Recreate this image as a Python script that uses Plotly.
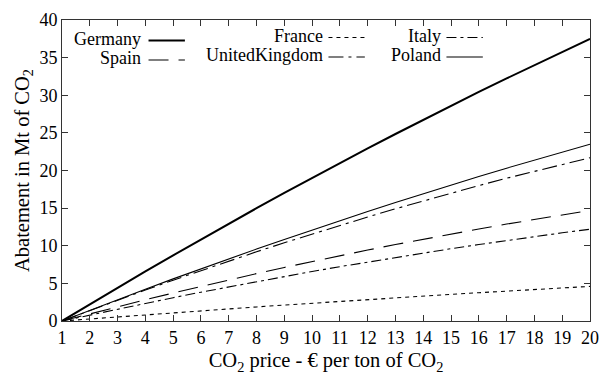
import plotly.graph_objects as go

# CO2 price in EUR per ton
price = list(range(1, 21))

# Abatement in Mt of CO2 for each country
germany = [0, 2.23, 4.42, 6.59, 8.73, 10.85, 12.93, 14.99, 17.02, 19.02,
           20.99, 22.94, 24.85, 26.74, 28.60, 30.44, 32.24, 34.02, 35.77, 37.5]
poland = [0, 1.43, 2.84, 4.23, 5.60, 6.94, 8.26, 9.56, 10.84, 12.10,
          13.34, 14.56, 15.75, 16.92, 18.07, 19.20, 20.31, 21.40, 22.46, 23.5]
uk = [0, 1.40, 2.77, 4.11, 5.42, 6.71, 7.97, 9.20, 10.40, 11.57,
      12.71, 13.82, 14.91, 15.97, 17.00, 18.00, 18.97, 19.91, 20.82, 21.7]
spain = [0, 0.96, 1.90, 2.82, 3.72, 4.60, 5.46, 6.30, 7.12, 7.91,
         8.68, 9.43, 10.16, 10.87, 11.56, 12.23, 12.88, 13.51, 14.12, 14.7]
italy = [0, 0.80, 1.58, 2.35, 3.10, 3.83, 4.54, 5.24, 5.92, 6.58,
         7.22, 7.84, 8.45, 9.04, 9.61, 10.16, 10.70, 11.22, 11.72, 12.2]
france = [0, 0.28, 0.56, 0.83, 1.10, 1.36, 1.62, 1.87, 2.12, 2.37,
          2.61, 2.85, 3.08, 3.31, 3.54, 3.76, 3.98, 4.19, 4.40, 4.6]

x_ticks = list(range(1, 21))
y_ticks = list(range(0, 41, 5))

series = [
    ("Germany", germany, 2.0, "solid"),
    ("Spain", spain, 1.1, "20px,10px"),
    ("France", france, 1.1, "4px,4px"),
    ("UnitedKingdom", uk, 1.1, "15px,5px,3px,5px"),
    ("Italy", italy, 1.1, "10px,4px,3px,4px"),
    ("Poland", poland, 1.1, "solid"),
]

W, H = 609, 382
L, R, T, B = 62, 10, 12, 61
FONT = "Liberation Serif"

fig = go.Figure()
for name, vals, w, dash in series:
    fig.add_trace(go.Scatter(
        x=price, y=vals, mode="lines", name=name,
        line=dict(color="black", width=w, dash=dash),
        showlegend=False,
    ))

# key drawn inside the plot: right-aligned names followed by line samples
pw, ph = W - L - R, H - T - B


def px_x(p):
    return (p - L) / pw


def px_y(p):
    return (H - B - p) / ph


key = [
    ("Germany", 142, 150, 187, 31),
    ("Spain", 142, 150, 187, 51),
    ("France", 327, 333, 370, 28),
    ("UnitedKingdom", 327, 333, 370, 48),
    ("Italy", 447, 453, 490, 28),
    ("Poland", 447, 453, 490, 48),
]
styles = {name: (w, dash) for name, _, w, dash in series}
for name, tx, x0, x1, yy in key:
    fig.add_annotation(
        x=px_x(tx), y=px_y(yy), xref="paper", yref="paper",
        text=name, showarrow=False, xanchor="right", yanchor="middle",
        borderpad=0, borderwidth=0,
        font=dict(family=FONT, size=18, color="black"),
    )
    w, dash = styles[name]
    fig.add_shape(
        type="line", xref="paper", yref="paper",
        x0=px_x(x0), x1=px_x(x1), y0=px_y(yy + 2), y1=px_y(yy + 2),
        line=dict(color="black", width=w, dash=dash),
    )

axis_common = dict(
    showline=True, linecolor="#333", linewidth=1, mirror="ticks",
    ticks="inside", ticklen=6, tickcolor="#333", tickwidth=1,
    showgrid=False, zeroline=False,
    tickfont=dict(family=FONT, size=18, color="black"),
)

fig.update_layout(
    width=W, height=H,
    margin=dict(l=L, r=R, t=T, b=B),
    paper_bgcolor="white", plot_bgcolor="white",
    font=dict(family=FONT, color="black"),
    xaxis=dict(range=[1, 20], tickvals=x_ticks, **axis_common,
               title=dict(text="CO<sub>2</sub> price - € per ton of CO<sub>2</sub>",
                          font=dict(family=FONT, size=20.5, color="black"), standoff=6)),
    yaxis=dict(range=[0, 40], tickvals=y_ticks, **axis_common,
               title=dict(text="Abatement in Mt of CO<sub>2</sub>",
                          font=dict(family=FONT, size=20.5, color="black"), standoff=4)),
)

fig.write_html("out.html")
